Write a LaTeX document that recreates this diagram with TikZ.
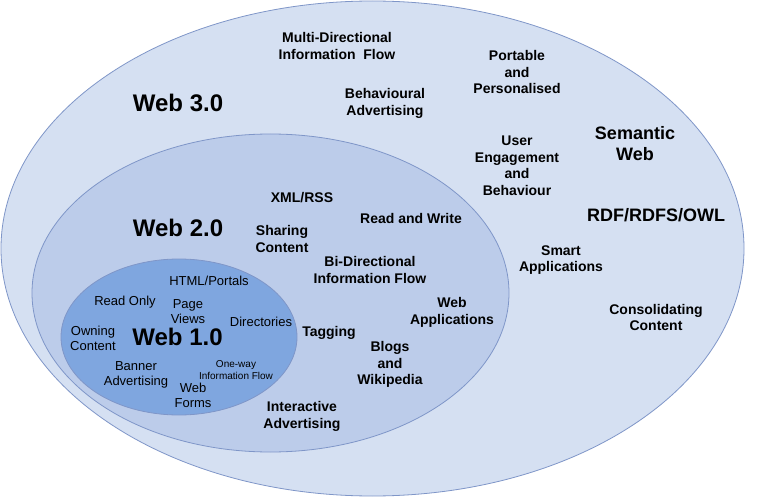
\documentclass[tikz,border=0pt]{standalone}
\usepackage{fontspec}
\setmainfont{Liberation Sans}
\usetikzlibrary{shapes.geometric}
\definecolor{outerfill}{HTML}{D5E0F2}
\definecolor{midfill}{HTML}{BCCCEA}
\definecolor{innerfill}{HTML}{7FA6DF}
\definecolor{edgecol}{HTML}{7F96C8}
\tikzset{
  zone/.style={ellipse, draw=edgecol, line width=0.8pt, inner sep=0pt},
  lbl/.style={align=center, inner sep=0pt, font=\bfseries\fontsize{14}{16.5}\selectfont},
  biglbl/.style={align=center, inner sep=0pt, font=\bfseries\fontsize{18}{21}\selectfont},
  title/.style={inner sep=0pt, font=\bfseries\fontsize{24}{28}\selectfont},
  innerlbl/.style={align=center, inner sep=0pt, font=\fontsize{13}{15}\selectfont},
  tinylbl/.style={align=center, inner sep=0pt, font=\fontsize{10}{12}\selectfont}
}
\begin{document}
\begin{tikzpicture}[x=1pt,y=-1pt]
\useasboundingbox[fill=white] (0,0) rectangle (763,497);
% zones
\node[zone, fill=outerfill, minimum width=743pt, minimum height=495pt] (web3) at (372.5,248.5) {};
\node[zone, fill=midfill, minimum width=477pt, minimum height=318pt] (web2) at (270.5,293) {};
\node[zone, fill=innerfill, minimum width=236pt, minimum height=156pt] (web1) at (179,337) {};
% Web 3.0 labels
\node[title] (t3) at (178,103) {Web 3.0};
\node[lbl] (multi) at (337,46) {Multi-Directional\\Information\ \ Flow};
\node[lbl] (behad) at (385,103.5) {Behavioural\\Advertising};
\node[lbl] (port) at (517,72) {Portable\\and\\Personalised};
\node[lbl] (user) at (517,166) {User\\Engagement\\and\\Behaviour};
\node[biglbl] (sem) at (635,144) {Semantic\\Web};
\node[biglbl] (rdf) at (656,215) {RDF/RDFS/OWL};
\node[lbl] (smart) at (561,260) {Smart\\Applications};
\node[lbl] (cons) at (656,317.5) {Consolidating\\Content};
% Web 2.0 labels
\node[title] (t2) at (178,228) {Web 2.0};
\node[lbl] (xml) at (302,198) {XML/RSS};
\node[lbl] (rw) at (411,218) {Read and Write};
\node[lbl] (share) at (282,239) {Sharing\\Content};
\node[lbl] (bidir) at (370,270) {Bi-Directional\\Information Flow};
\node[lbl] (webapp) at (452,312.5) {Web\\Applications};
\node[lbl] (tag) at (329,333) {Tagging};
\node[lbl] (blogs) at (390,364.5) {Blogs\\and\\Wikipedia};
\node[lbl] (inter) at (302,416.5) {Interactive\\Advertising};
% Web 1.0 labels
\node[title] (t1) at (177.5,337) {Web 1.0};
\node[innerlbl] (html) at (209,281) {HTML/Portals};
\node[innerlbl] (ro) at (125,302) {Read Only};
\node[innerlbl] (page) at (188,311.5) {Page\\Views};
\node[innerlbl] (dir) at (261,322) {Directories};
\node[innerlbl] (own) at (93,338) {Owning\\Content};
\node[innerlbl] (banner) at (136,374.5) {Banner\\Advertising};
\node[tinylbl] (oneway) at (236,370) {One-way\\Information Flow};
\node[innerlbl] (forms) at (193,395) {Web\\Forms};
\end{tikzpicture}
\end{document}
